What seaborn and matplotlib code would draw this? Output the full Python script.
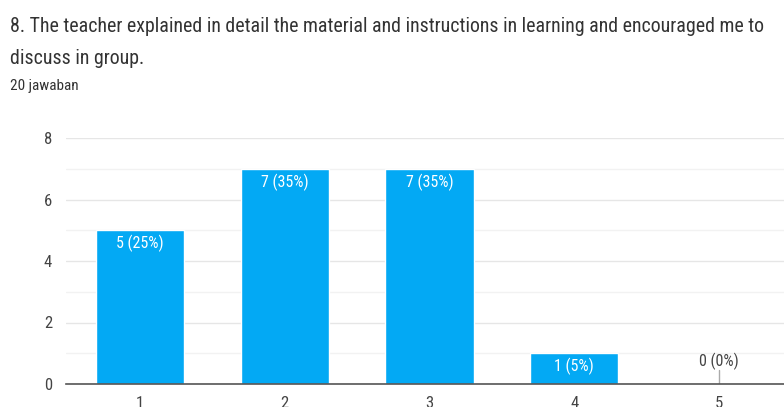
import matplotlib
matplotlib.use("Agg")
import matplotlib.pyplot as plt
import seaborn as sns
import pandas as pd
from matplotlib import font_manager

categories = ["1", "2", "3", "4", "5"]
counts = [5, 7, 7, 1, 0]
percents = ["25%", "35%", "35%", "5%", "0%"]
title_lines = ["8. The teacher explained in detail the material and instructions in learning and encouraged me to",
               "discuss in group."]
subtitle = "20 jawaban"

sns.set_theme(style="white")
names = {f.name for f in font_manager.fontManager.ttflist}
cands = ["Roboto Condensed", "Archivo Narrow", "Fira Sans Condensed", "IBM Plex Sans Condensed", "Roboto"]
fam = next(c for c in cands if c in names)
plt.rcParams['font.family'] = [fam, 'DejaVu Sans']

df = pd.DataFrame({"cat": categories, "count": counts})

fig = plt.figure(figsize=(7.84, 4.07), dpi=100)
ax = fig.add_axes([66/784, 23/407, (793-66)/784, (384-138)/407])

sns.barplot(data=df, x="cat", y="count", color="#03A9F4", saturation=1, width=0.61, ax=ax)

ax.set_ylim(0, 8)
ax.set_xlim(-0.51, 4.51)
ax.set_yticks([0, 2, 4, 6, 8])
ax.set_yticks([1, 3, 5, 7], minor=True)
ax.grid(True, which="major", axis="y", color="#e6e6e6", linewidth=1)
ax.grid(True, which="minor", axis="y", color="#f2f2f2", linewidth=1)
ax.set_axisbelow(True)
for s in ["top", "right", "left"]:
    ax.spines[s].set_visible(False)
ax.spines["bottom"].set_color("#555555")
ax.spines["bottom"].set_linewidth(1.2)
ax.tick_params(axis="both", length=0, labelsize=12, colors="#444444", pad=10)
ax.tick_params(axis="x", pad=9)
ax.set_xlabel("")
ax.set_ylabel("")

for i, (c, p) in enumerate(zip(counts, percents)):
    lbl = f"{c} ({p})"
    if c > 0:
        ax.annotate(lbl, (i, c), xytext=(0, -9.5), textcoords="offset points",
                    ha="center", va="center", color="white", fontsize=11.5)
    else:
        ax.plot([i, i], [0, 0.45], color="#aaaaaa", linewidth=1)
        ax.annotate(lbl, (i, 0.45), xytext=(0, 6), textcoords="offset points",
                    ha="center", va="center", color="#444444", fontsize=11.5)

fig.text(10/784, 1 - 26/407, title_lines[0], fontsize=14.3, color="#333333", va="center", ha="left")
fig.text(10/784, 1 - 58/407, title_lines[1], fontsize=14.3, color="#333333", va="center", ha="left")
fig.text(10/784, 1 - 86/407, subtitle, fontsize=11, color="#333333", va="center", ha="left")

fig.savefig("out.png", dpi=100)
